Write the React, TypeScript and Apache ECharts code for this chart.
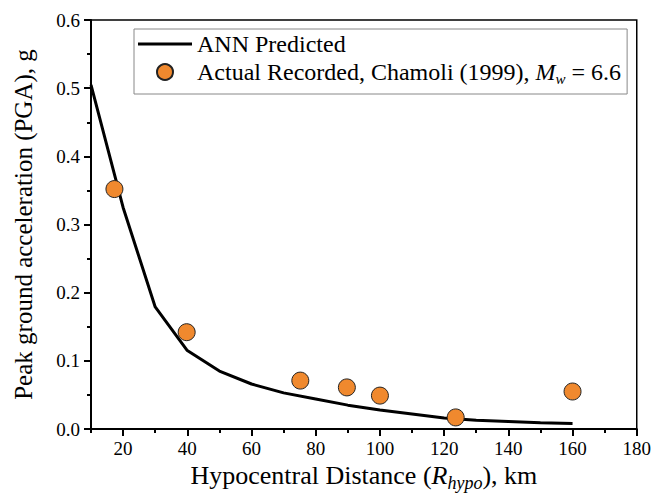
import React, { useEffect, useRef } from "react";
import * as echarts from "echarts";

const predX = [10, 20, 30, 40, 50, 60, 70, 80, 90, 100, 110, 120, 130, 140, 150, 160];
const predY = [0.505, 0.325, 0.179, 0.115, 0.085, 0.066, 0.053, 0.044, 0.035, 0.028, 0.022, 0.016, 0.013, 0.011, 0.009, 0.008];
const obsX = [17.3, 39.8, 75.2, 89.7, 100, 123.6, 160];
const obsY = [0.352, 0.142, 0.071, 0.061, 0.049, 0.017, 0.055];
const xMajor = [20, 40, 60, 80, 100, 120, 140, 160, 180];
const xMinor = [10, 30, 50, 70, 90, 110, 130, 150, 170];

const FONT = "Liberation Serif";

export default function App() {
  const ref = useRef<HTMLDivElement>(null);
  useEffect(() => {
    if (!ref.current) return;
    const chart = echarts.init(ref.current, null, { renderer: "svg" });
    const baseText = { fontFamily: FONT, color: "#000" };
    chart.setOption({
      animation: false,
      backgroundColor: "#fff",
      textStyle: { fontFamily: FONT },
      grid: {
        left: 91,
        right: 17,
        top: 20,
        bottom: 70,
        show: true,
        borderColor: "#000",
        borderWidth: 1.5,
        backgroundColor: "transparent",
      },
      legend: {
        orient: "vertical",
        left: 134,
        top: 29,
        padding: [3, 6, 8, 4],
        itemWidth: 54,
        itemHeight: 16,
        itemGap: 4,
        itemTextGap: 12,
        symbolKeepAspect: true,
        borderColor: "#888",
        borderWidth: 1,
        backgroundColor: "#fff",
        data: [
          { name: "ANN Predicted", icon: "path://M0,0 H54 V3 H0 Z", itemStyle: { color: "#000" } },
          { name: "Actual Recorded", icon: "circle" },
        ],
        formatter: (name: string) =>
          name === "ANN Predicted"
            ? "{n|ANN Predicted}"
            : "{n|Actual Recorded, Chamoli (1999), }{i|M}{s|w}{n| = 6.6}",
        textStyle: {
          ...baseText,
          fontSize: 24,
          rich: {
            n: { fontFamily: FONT, fontSize: 24, color: "#000" },
            i: { fontFamily: FONT, fontSize: 24, fontStyle: "italic", color: "#000" },
            s: { fontFamily: FONT, fontSize: 15, fontStyle: "italic", color: "#000", padding: [13, 0, 0, 0] },
          },
        },
      },
      xAxis: [
        {
          type: "value",
          min: 10,
          max: 180,
          position: "bottom",
          splitLine: { show: false },
          axisLine: { show: true, lineStyle: { color: "#000", width: 2 } },
          axisTick: { show: true, length: 7, lineStyle: { color: "#000", width: 2 }, customValues: xMajor },
          axisLabel: { ...baseText, fontSize: 19, margin: 10, customValues: xMajor },
          name: "{n|Hypocentral Distance (}{i|R}{s|hypo}{n|), km}",
          nameLocation: "middle",
          nameGap: 27,
          nameTextStyle: {
            ...baseText,
            fontSize: 26,
            rich: {
              n: { fontFamily: FONT, fontSize: 26, color: "#000" },
              i: { fontFamily: FONT, fontSize: 26, fontStyle: "italic", color: "#000" },
              s: { fontFamily: FONT, fontSize: 18, fontStyle: "italic", color: "#000", padding: [14, 0, 0, 0] },
            },
          },
        },
        {
          type: "value",
          min: 10,
          max: 180,
          position: "bottom",
          splitLine: { show: false },
          axisLine: { show: false },
          axisTick: { show: true, length: 4, lineStyle: { color: "#000", width: 2 }, customValues: xMinor },
          axisLabel: { show: false },
        },
      ],
      yAxis: {
        type: "value",
        min: 0,
        max: 0.6,
        interval: 0.1,
        splitLine: { show: false },
        axisLine: { show: true, lineStyle: { color: "#000", width: 2 } },
        axisTick: { show: true, length: 7, lineStyle: { color: "#000", width: 2 } },
        minorTick: { show: true, splitNumber: 2, length: 4, lineStyle: { color: "#000", width: 2 } },
        axisLabel: { ...baseText, fontSize: 19, margin: 11, formatter: (v: number) => v.toFixed(1) },
        name: "Peak ground acceleration (PGA), g",
        nameLocation: "middle",
        nameGap: 55,
        nameTextStyle: { ...baseText, fontSize: 25 },
      },
      series: [
        {
          name: "ANN Predicted",
          type: "line",
          xAxisIndex: 0,
          data: predX.map((x, i) => [x, predY[i]]),
          symbol: "none",
          lineStyle: { color: "#000", width: 3 },
          itemStyle: { color: "#000" },
          z: 2,
        },
        {
          name: "Actual Recorded",
          type: "scatter",
          xAxisIndex: 0,
          data: obsX.map((x, i) => [x, obsY[i]]),
          symbol: "circle",
          symbolSize: 17,
          itemStyle: { color: "#F0892E", opacity: 1, borderColor: "#222", borderWidth: 1 },
          z: 3,
        },
      ],
    });
    return () => chart.dispose();
  }, []);
  return <div ref={ref} style={{ position: "absolute", left: 0, top: 0, width: 654, height: 499 }} />;
}
